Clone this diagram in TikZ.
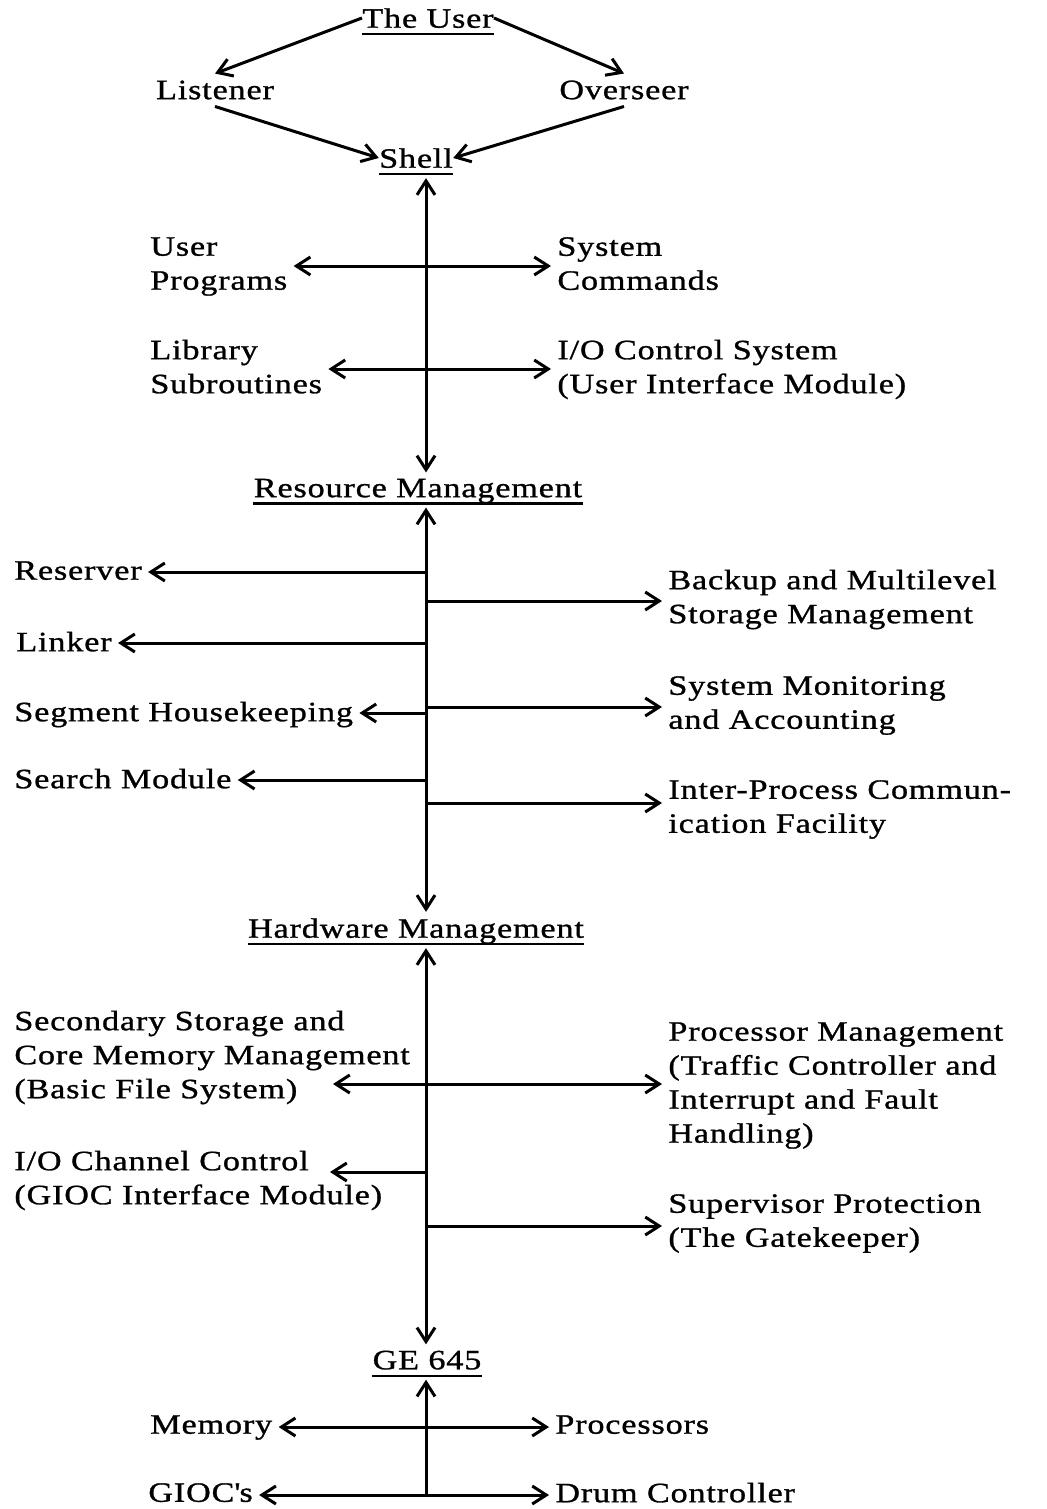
\documentclass[tikz,border=0pt]{standalone}
\usepackage{fontspec}
\setmainfont{Liberation Serif}[FakeStretch=1.22,LetterSpace=3,FakeBold=1]
\usetikzlibrary{arrows.meta}
\tikzset{
  heading/.style = {inner xsep=0pt, inner ysep=3pt, text depth=0pt},
  leaf/.style = {align=left, inner sep=3pt, anchor=west, text depth=0.25em},
  link/.style = {line width=1.5pt},
  rule/.style = {line width=1.1pt}
}
\tikzset{>={Straight Barb[length=7pt,width=9pt]}}

\begin{document}
\begin{tikzpicture}[x=0.5pt,y=-0.5pt,font=\fontsize{14pt}{17pt}\selectfont]
  \useasboundingbox (0,0) rectangle (1047,1509);
  % levels
  \node[heading] (user) at (428,18) {The User};
  \node[heading] (shell) at (416,158) {Shell};
  \node[heading] (rm) at (418,488) {Resource Management};
  \node[heading] (hm) at (416,928) {Hardware Management};
  \node[heading] (ge) at (427,1360) {GE 645};
  \foreach \n in {user,shell,rm,hm,ge}
    \draw[rule] (\n.south west) -- (\n.south east);
  % top
  \node (listener) at (215,90) {Listener};
  \node (overseer) at (624,90) {Overseer};
  \draw[link,->] (user.west) -- (listener.north);
  \draw[link,->] (user.east) -- (overseer.north);
  \draw[link,->] (listener.south) -- (shell.west);
  \draw[link,->] (overseer.south) -- (shell.east);
  % spine
  \coordinate (ax) at (426,0);
  \coordinate (base) at (426,1494);
  \draw[link,<->,shorten <=2pt] (shell.south -| ax) -- (rm.north -| ax);
  \draw[link,<->,shorten <=2pt] (rm.south -| ax) -- (hm.north -| ax);
  \draw[link,<->,shorten <=2pt] (hm.south -| ax) -- (ge.north -| ax);
  \draw[link,->,shorten >=2pt] (base) -- (ge.south -| base);
  % shell level
  \node[leaf] (userprog) at (144,266) {User\\Programs};
  \node[leaf] (syscmd) at (551,266) {System\\Commands};
  \node[leaf] (library) at (144,369) {Library\\Subroutines};
  \node[leaf] (ioctl) at (551,369) {I/O Control System\\(User Interface Module)};
  \draw[link,<->] (userprog.east) -- (syscmd.west);
  \draw[link,<->] (library.east) -- (ioctl.west);
  % resource level
  \node[leaf] (reserver) at (8,573) {Reserver};
  \node[leaf] (linker) at (10,644) {Linker};
  \node[leaf] (segment) at (8,714) {Segment Housekeeping};
  \node[leaf] (search) at (8,781) {Search Module};
  \node[leaf] (backup) at (662,599) {Backup and Multilevel\\Storage Management};
  \node[leaf] (monitor) at (662,705) {System Monitoring\\and Accounting};
  \node[leaf] (ipc) at (662,809) {Inter-Process Commun-\\ication Facility};
  \foreach \n/\y in {reserver/572,linker/643,segment/713,search/780}{
    \coordinate (j\n) at (426,\y);
    \draw[link,->] (j\n) -- (j\n -| \n.east);
  }
  \foreach \n/\y in {backup/601,monitor/707,ipc/803}{
    \coordinate (j\n) at (426,\y);
    \draw[link,->] (j\n) -- (j\n -| \n.west);
  }
  % hardware level
  \node[leaf] (secondary) at (8,1057)
    {Secondary Storage and\\Core Memory Management\\(Basic File System)};
  \node[leaf] (iochan) at (8,1180) {I/O Channel Control\\(GIOC Interface Module)};
  \node[leaf] (processor) at (662,1085)
    {Processor Management\\(Traffic Controller and\\Interrupt and Fault\\Handling)};
  \node[leaf] (supervisor) at (662,1223) {Supervisor Protection\\(The Gatekeeper)};
  \coordinate (bfs) at (333,1084);
  \draw[link,<->] (bfs) -- (bfs -| processor.west);
  \coordinate (gioc) at (330,1172);
  \coordinate (jiochan) at (426,1172);
  \draw[link,->] (jiochan) -- (gioc);
  \coordinate (jsupervisor) at (426,1226);
  \draw[link,->] (jsupervisor) -- (jsupervisor -| supervisor.west);
  % machine
  \node[leaf] (memory) at (144,1427) {Memory};
  \node[leaf] (processors) at (549,1427) {Processors};
  \node[leaf] (giocs) at (142,1495) {GIOC\textquotesingle s};
  \node[leaf] (drum) at (549,1495) {Drum Controller};
  \draw[link,<->] (memory.east) -- (processors.west);
  \draw[link,<->] (giocs.east) -- (drum.west);
\end{tikzpicture}
\end{document}
